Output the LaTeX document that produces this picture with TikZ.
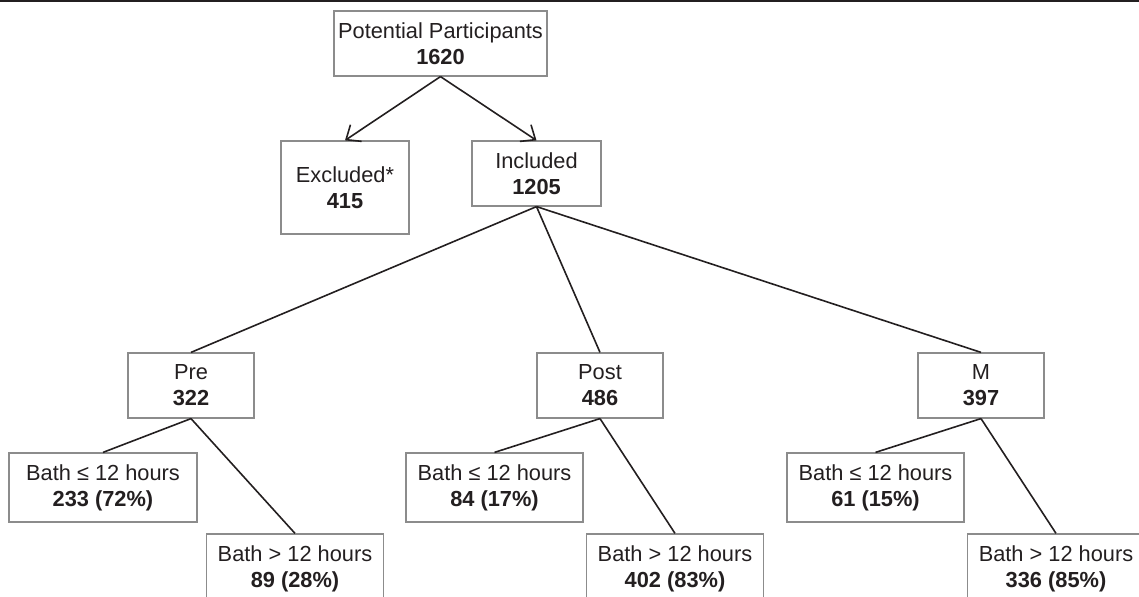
\documentclass[tikz,border=0pt]{standalone}
\usepackage{fontspec}
\setmainfont{Liberation Sans}
\usetikzlibrary{arrows.meta}

\definecolor{boxgray}{RGB}{140,140,140}
\definecolor{inkgray}{RGB}{35,31,32}

\tikzset{
	box/.style={draw=boxgray, line width=0.6pt, inner sep=0pt, minimum height=32.5pt,
		align=center, text=inkgray, font=\fontsize{10.9}{13}\selectfont},
	leaf/.style={box, minimum height=34.5pt, minimum width=88.5pt},
	link/.style={draw=inkgray, line width=0.8pt},
	arr/.style={link, -{Straight Barb[length=6pt,width=10pt]}}
}

\begin{document}
\begin{tikzpicture}[x=0.5pt,y=-0.5pt]
	\useasboundingbox (0,0) rectangle (1139,597);
	\clip (0,0) rectangle (1139,597);
	\draw[inkgray, line width=1.5pt] (0,1) -- (1139,1);

	\node[box, minimum width=106.5pt] (potential) at (440.5,43.5) {Potential Participants\\\textbf{1620}};
	\node[box, minimum width=64pt, minimum height=46.5pt] (excluded) at (345,187.5) {Excluded*\\\textbf{415}};
	\node[box, minimum width=64.5pt] (included) at (536.5,173.5) {Included\\\textbf{1205}};

	\node[box, minimum width=63pt] (pre) at (191,385.5) {Pre\\\textbf{322}};
	\node[box, minimum width=63pt] (post) at (600,385.5) {Post\\\textbf{486}};
	\node[box, minimum width=63pt] (mgrp) at (981,385.5) {M\\\textbf{397}};

	\node[leaf, minimum width=94pt] (preshort) at (103,487.5) {Bath ≤ 12 hours\\\textbf{233 (72\%)}};
	\node[leaf] (prelong) at (295,568.5) {Bath > 12 hours\\\textbf{89 (28\%)}};
	\node[leaf] (postshort) at (494.5,487.5) {Bath ≤ 12 hours\\\textbf{84 (17\%)}};
	\node[leaf] (postlong) at (675,568.5) {Bath > 12 hours\\\textbf{402 (83\%)}};
	\node[leaf] (mshort) at (875.5,487.5) {Bath ≤ 12 hours\\\textbf{61 (15\%)}};
	\node[leaf] (mlong) at (1056,568.5) {Bath > 12 hours\\\textbf{336 (85\%)}};

	\path[arr] (potential.south) -- (excluded.north);
	\path[arr] (potential.south) -- (included.north);

	\path[link] (included.south) -- (pre.north);
	\path[link] (included.south) -- (post.north);
	\path[link] (included.south) -- (mgrp.north);

	\path[link] (pre.south) -- (preshort.north);
	\path[link] (pre.south) -- (prelong.north);
	\path[link] (post.south) -- (postshort.north);
	\path[link] (post.south) -- (postlong.north);
	\path[link] (mgrp.south) -- (mshort.north);
	\path[link] (mgrp.south) -- (mlong.north);
\end{tikzpicture}
\end{document}
